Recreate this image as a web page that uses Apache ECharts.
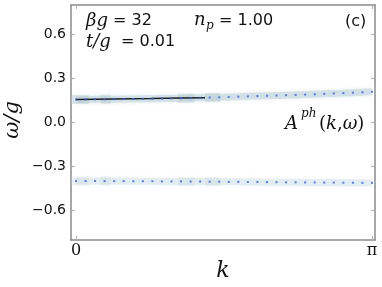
<!DOCTYPE html>
<html><head><meta charset="utf-8">
<script src="https://cdn.jsdelivr.net/npm/echarts@6/dist/echarts.min.js"></script>
<style>html,body{margin:0;padding:0;background:#fff}#c{width:382px;height:287px}</style>
</head><body><div id="c"></div>
<script>
// ---- data ----
const kValues = Array.from({length:32},(_,i)=>i*Math.PI/31);
const upperOmega = [0.157,0.157,0.158,0.158,0.159,0.160,0.160,0.161,0.162,0.163,0.164,0.165,0.166,0.168,0.170,0.172,0.174,0.176,0.178,0.180,0.182,0.184,0.186,0.188,0.190,0.192,0.195,0.198,0.200,0.203,0.206,0.209];
const lowerOmega = [-0.398,-0.398,-0.398,-0.399,-0.399,-0.399,-0.400,-0.400,-0.400,-0.401,-0.401,-0.401,-0.402,-0.402,-0.403,-0.403,-0.404,-0.404,-0.405,-0.405,-0.406,-0.406,-0.407,-0.407,-0.408,-0.408,-0.409,-0.409,-0.410,-0.410,-0.411,-0.411];
const blackK = [0.0,0.4,0.8,1.1,1.37];
const blackOmega = [0.157,0.160,0.163,0.166,0.169];
const blobRanges = [[-0.05,0.14],[0.26,0.37],[1.08,1.26],[1.37,1.53]];
const yTicks = [-0.6,-0.3,0.0,0.3,0.6];
const xTicks = [0, Math.PI];
const xTickLabels = ['0','π'];

function interp(arr,k){const t=k/(Math.PI/31);const i=Math.max(0,Math.min(30,Math.floor(t)));const f=t-i;return arr[i]*(1-f)+arr[i+1]*f;}
function blobSeries(arr,color){
  return blobRanges.map(r=>({type:'line',data:[[r[0],interp(arr,Math.max(0,r[0]))],[r[1],interp(arr,r[1])]],
    symbol:'none',lineStyle:{width:9,color:color,cap:'butt'},silent:true,z:2}));
}
const serifI = 'italic 18px "DejaVu Serif"';
const sans = '16px "DejaVu Sans"';
function T(text,x,y,font,extra){return {type:'text',z:100,style:Object.assign({text,x,y,font,fill:'#111',textAlign:'left',textVerticalAlign:'middle'},extra||{})};}

const chart = echarts.init(document.getElementById('c'),null,{renderer:'canvas'});
const axisLineStyle = {color:'#8a8a8a',width:1.5};
function xAx(pos,labels){return {type:'value',min:-0.053,max:Math.PI+0.032,position:pos,
      axisLine:{show:true,onZero:false,lineStyle:axisLineStyle},
      axisTick:{show:true,inside:true,length:4,customValues:xTicks,lineStyle:{color:'#b0b0b0'}},
      axisLabel:labels?{show:true,customValues:xTicks,formatter:v=>Math.abs(v)<1e-6?xTickLabels[0]:xTickLabels[1],
        fontFamily:'DejaVu Serif',fontSize:16,color:'#111',margin:3,
        rich:{}}:{show:false},
      splitLine:{show:false}};}
function yAx(pos,labels){return {type:'value',min:-0.8,max:0.8,position:pos,
      axisLine:{show:true,onZero:false,lineStyle:axisLineStyle},
      axisTick:{show:true,inside:true,length:4,customValues:yTicks,lineStyle:{color:'#b0b0b0'}},
      axisLabel:labels?{show:true,customValues:yTicks,formatter:v=>v.toFixed(1).replace('-','\u2212'),
        fontFamily:'DejaVu Sans',fontSize:14,color:'#111',margin:5}:{show:false},
      splitLine:{show:false}};}
chart.setOption({
  animation:false,
  grid:{left:71,right:7,top:5,bottom:47,containLabel:false},
  xAxis:[xAx('bottom',true),xAx('top',false)],
  yAxis:[yAx('left',true),yAx('right',false)],
  series:[
    {type:'line',data:kValues.map((k,i)=>[k,upperOmega[i]]),symbol:'none',
      lineStyle:{width:7,color:'rgba(190,210,216,0.55)',shadowBlur:4,shadowColor:'rgba(200,218,223,0.8)'},z:1,silent:true},
    {type:'line',data:kValues.map((k,i)=>[k,lowerOmega[i]]),symbol:'none',
      lineStyle:{width:7,color:'rgba(200,218,223,0.4)',shadowBlur:4,shadowColor:'rgba(205,220,225,0.6)'},z:1,silent:true},
    ...blobSeries(upperOmega,'rgba(180,202,208,0.45)'),
    ...blobSeries(lowerOmega,'rgba(200,216,221,0.3)'),
    {type:'line',data:blackK.map((k,i)=>[k,blackOmega[i]]),symbol:'none',
      lineStyle:{width:1.5,color:'#222'},z:3,silent:true},
    {type:'scatter',data:kValues.map((k,i)=>[k,upperOmega[i]]),symbol:'rect',symbolSize:2,
      itemStyle:{color:'#2a62ff'},z:4,silent:true},
    {type:'scatter',data:kValues.map((k,i)=>[k,lowerOmega[i]]),symbol:'rect',symbolSize:2,
      itemStyle:{color:'#2a62ff'},z:4,silent:true}
  ],
  graphic:[
    T('βg',86,21,serifI),
    T('= 32',113,21,sans),
    T('t/g',86,42,serifI),
    T('= 0.01',121,42,sans),
    T('n',194,20,serifI),
    T('p',206,26,'italic 12px "DejaVu Serif"'),
    T('= 1.00',219,21,sans),
    T('(c)',345,22,sans),
    T('A',285,124,serifI),
    T('ph',301,114,'italic 12px "DejaVu Serif"'),
    {type:'text',z:100,style:{text:'({i|k},{i|ω})',x:319,y:124,font:'18px "DejaVu Serif"',fill:'#111',textAlign:'left',textVerticalAlign:'middle',
      rich:{i:{fontFamily:'DejaVu Serif',fontStyle:'italic',fontSize:18}}}},
    {type:'text',z:100,x:13,y:120,rotation:Math.PI/2,style:{text:'ω/g',x:0,y:0,font:'italic 21px "DejaVu Serif"',fill:'#111',textAlign:'center',textVerticalAlign:'middle'}},
    T('k',223,271,'italic 22px "DejaVu Serif"',{textAlign:'center'})
  ]
});
</script></body></html>
